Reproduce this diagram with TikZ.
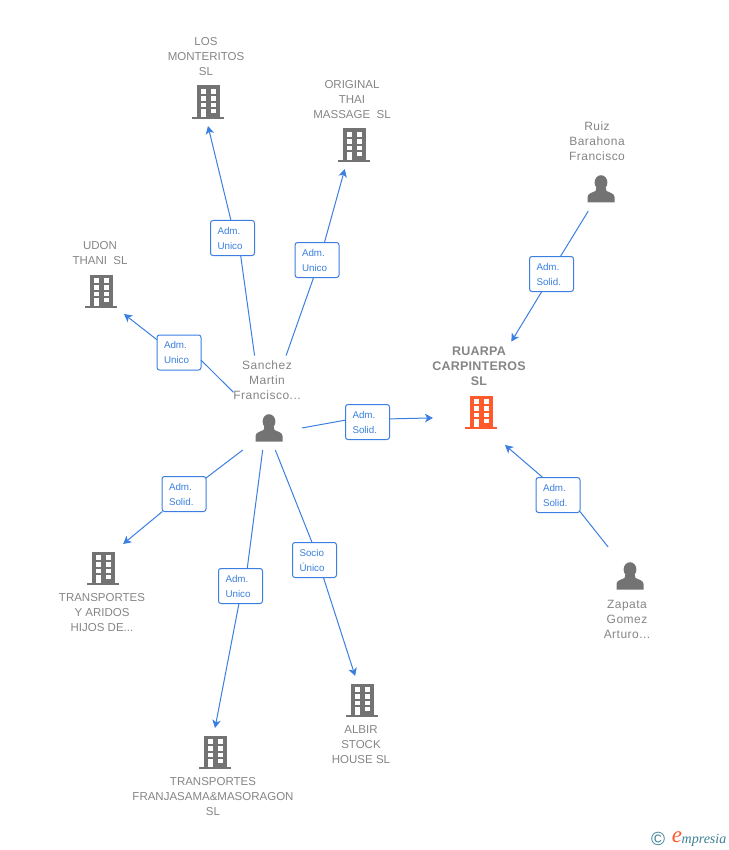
\documentclass[tikz,border=0pt]{standalone}
\usepackage{fontspec}
\setmainfont{Liberation Sans}
\newfontfamily\logofont{Liberation Serif}
\usepackage{xcolor}
\usepackage{tikz}
\usetikzlibrary{arrows.meta, positioning}
\definecolor{linkblue}{HTML}{3B7FE0}
\definecolor{icongray}{HTML}{737373}
\definecolor{labelgray}{HTML}{858585}
\definecolor{mainorange}{HTML}{FF5A2C}
\definecolor{logoteal}{HTML}{3D7F95}
\tikzset{
	buildingicon/.pic={
		\fill[pic actions] (-11.5,-16.5) rectangle (11.5,15.5);
		\fill[pic actions] (-16,15) rectangle (16,17.3);
		\foreach \wy/\wh in {-12.7/4.7, -6/4.7, 0.7/4.2, 7/4.3} {
			\fill[white] (-7.5,\wy) rectangle ++(5,\wh);
			\fill[white] (2.5,\wy) rectangle ++(5,\wh);
		}
		\fill[white] (-7.5,11) rectangle (-2.5,15);
	},
	personicon/.pic={
		\fill[pic actions] (0,-6.5) ellipse [x radius=6.4pt, y radius=7.3pt];
		\fill[pic actions] (-13.5,13.5) -- (13.5,13.5) -- (13.5,8)
			.. controls (13.5,4.5) and (8.5,3.5) .. (5.5,2) -- (4.5,-2) -- (-4.5,-2) -- (-5.5,2)
			.. controls (-8.5,3.5) and (-13.5,4.5) .. (-13.5,8) -- cycle;
	}
}
\begin{document}
\begin{tikzpicture}[->, >={Stealth[length=8pt, width=8.5pt, inset=2.2pt]}, x=1pt, y=-1pt, node distance = 46pt]
	\tikzstyle{building}=[minimum width=46pt, minimum height=48pt, inner sep=0pt, outer sep=0pt]
	\tikzstyle{person}=[minimum width=66pt, minimum height=44pt, inner sep=0pt, outer sep=0pt]
	\tikzstyle{caption}=[align=center, text=labelgray, inner xsep=0pt, inner ysep=5pt, outer sep=0pt, font=\fontsize{11.5}{15}\selectfont]
	\tikzstyle{personcaption}=[caption, font=\fontsize{12}{15}\selectfont\addfontfeature{LetterSpace=4}]
	\tikzstyle{role}=[rectangle, draw=linkblue, fill=white, rounded corners=2.5pt, line width=1pt, text=linkblue, text width=30pt, minimum height=35pt, inner xsep=7pt, inner ysep=0pt, outer sep=0pt, align=left, font=\fontsize{9.8}{15}\selectfont]
	\tikzstyle{link}=[draw=linkblue, line width=1pt]
	\useasboundingbox (0,0) rectangle (728,850);

	\node[building] (los) at (208,102) {};
	\node[caption] (los-label) [above of=los, xshift=-2pt, yshift=-1pt]
		{LOS\\MONTERITOS\\SL};
	\node[building] (original) at (354,145) {};
	\node[caption] (original-label) [above of=original, xshift=-2pt, yshift=-1pt]
		{ORIGINAL\\THAI\\MASSAGE\ \ SL};
	\node[building] (udon) at (101,291) {};
	\node[caption] (udon-label) [above of=udon, xshift=-1pt, yshift=-8.5pt]
		{UDON\\THANI\ \ SL};
	\node[building] (aridos) at (103,568) {};
	\node[caption] (aridos-label) [below of=aridos, xshift=-1pt, yshift=1pt]
		{TRANSPORTES\\Y ARIDOS\\HIJOS DE...};
	\node[building] (franjasama) at (215,752) {};
	\node[caption] (franjasama-label) [below of=franjasama, xshift=-2pt, yshift=1pt]
		{TRANSPORTES\\FRANJASAMA\&MASORAGON\\SL};
	\node[building] (albir) at (362,700) {};
	\node[caption] (albir-label) [below of=albir, xshift=-1pt, yshift=1pt]
		{ALBIR\\STOCK\\HOUSE SL};
	\node[building, minimum width=96pt, minimum height=66pt] (ruarpa) at (481,412) {};
	\node[caption, font=\fontsize{12.5}{15}\selectfont\bfseries\addfontfeature{LetterSpace=2}] (ruarpa-label) [above of=ruarpa, xshift=-2pt]
		{RUARPA\\CARPINTEROS\\SL};

	\node[person] (sanchez) at (269,428) {};
	\node[personcaption] (sanchez-label) [above of=sanchez, xshift=-2pt, yshift=2pt]
		{Sanchez\\Martin\\Francisco...};
	\node[person] (ruiz) at (601,189) {};
	\node[personcaption] (ruiz-label) [above of=ruiz, xshift=-4pt, yshift=2pt]
		{Ruiz\\Barahona\\Francisco};
	\node[person, minimum height=58pt] (zapata) at (630,576) {};
	\node[personcaption] (zapata-label) [below of=zapata, xshift=-3pt, yshift=3pt]
		{Zapata\\Gomez\\Arturo...};

	\foreach \icon in {los, original, udon, aridos, franjasama, albir}
		\pic[fill=icongray] at (\icon) {buildingicon};
	\pic[fill=mainorange] at (ruarpa) {buildingicon};
	\foreach \icon in {sanchez, ruiz, zapata}
		\pic[fill=icongray] at (\icon) {personicon};

	\node[role] (adm-los) at (232.5,238) {Adm.\\Unico};
	\node[role] (adm-original) at (317,260) {Adm.\\Unico};
	\node[role] (adm-udon) at (179,352.5) {Adm.\\Unico};
	\node[role] (adm-aridos) at (184,494) {Adm.\\Solid.};
	\node[role] (adm-franjasama) at (240.5,586) {Adm.\\Unico};
	\node[role] (socio-albir) at (314.5,560) {Socio\\Único};
	\node[role] (adm-ruarpa) at (367.5,422) {Adm.\\Solid.};
	\node[role] (adm-ruiz) at (551.5,274) {Adm.\\Solid.};
	\node[role] (adm-zapata) at (558,495) {Adm.\\Solid.};

	\draw[link, -] (sanchez-label.117) -- (adm-los.-65);
	\draw[link] (adm-los.95) -- (los.south);
	\draw[link, -] (sanchez-label.52) -- (adm-original.-101);
	\draw[link] (adm-original.67) -- (original.-111);
	\draw[link, -] (sanchez-label.200) -- (adm-udon.-19);
	\draw[link] (adm-udon.150) -- (udon.-45);
	\draw[link, -] (sanchez.220) -- (adm-aridos.36);
	\draw[link] (adm-aridos.219) -- (aridos.50);
	\draw[link, -] (sanchez.254) -- (adm-franjasama.69);
	\draw[link] (adm-franjasama.-95) -- (franjasama.north);
	\draw[link, -] (sanchez.-74) -- (socio-albir.98);
	\draw[link] (socio-albir.-63) -- (albir.106);
	\draw[link, -] (sanchez.east) -- (adm-ruarpa.175);
	\draw[link] (adm-ruarpa.8) -- (ruarpa.187);
	\draw[link, -] (ruiz.-120) -- (adm-ruiz.63);
	\draw[link] (adm-ruiz.-119) -- (ruarpa-label.37);
	\draw[link, -] (zapata.127) -- (adm-zapata.-37);
	\draw[link] (adm-zapata.131) -- (ruarpa.-54);

	\node[text=logoteal, font=\fontsize{19}{19}\selectfont, inner sep=0pt] (logo-copy) at (658,839) {©};
	\node[text=mainorange, font=\fontsize{23}{23}\logofont\itshape, inner sep=0pt] (logo-e) at (677,837) {e};
	\node[text=logoteal, font=\fontsize{14}{14}\logofont\itshape, inner sep=0pt] (logo-text) at (704,840) {mpresia};
\end{tikzpicture}
\end{document}
